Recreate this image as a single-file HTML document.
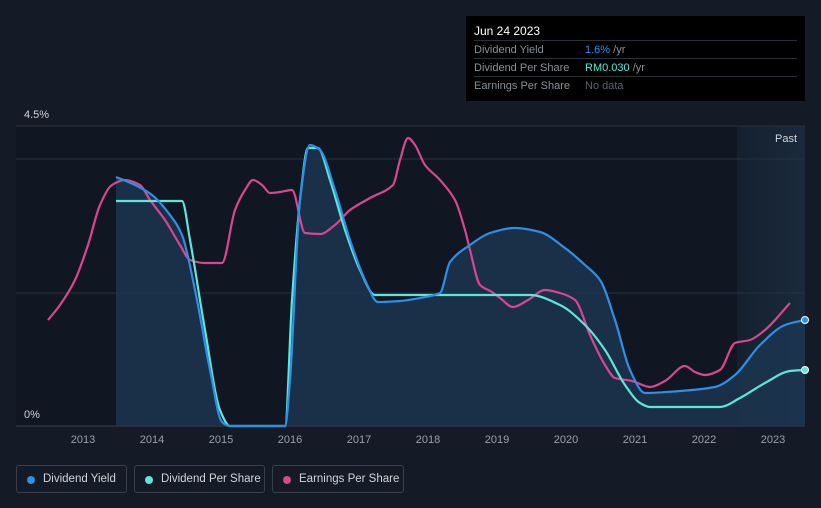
<!DOCTYPE html>
<html><head><meta charset="utf-8"><style>
body{margin:0;background:#151b26;font-family:"Liberation Sans",sans-serif;}
#wrap{position:relative;width:821px;height:508px;overflow:hidden;background:#151b26}
.tt{position:absolute;left:466px;top:16px;width:339px;height:85px;background:#000;color:#fff;font-size:11px}
.tt .row{position:absolute;left:8px;width:323px;border-top:1px solid #2a2f38;height:18px;line-height:18px}
.tt .k{color:#8a9099;position:absolute;left:0}
.tt .v{position:absolute;left:111px;color:#8a9099}
.leg{position:absolute;top:465px;height:28px;border:1px solid #3a404b;border-radius:3px;color:#d0d4da;font-size:11.5px;line-height:27px;padding:0 0 0 26px;box-sizing:border-box;white-space:nowrap}
.leg i{position:absolute;left:10px;top:10px;width:8px;height:8px;border-radius:50%}
</style></head><body>
<div id="wrap">
<svg id="svg" width="821" height="508" style="position:absolute;left:0;top:0"><defs><linearGradient id="pg" x1="0" x2="1" y1="0" y2="0"><stop offset="0" stop-color="#14202e"/><stop offset="1" stop-color="#1a2a3c"/></linearGradient></defs></svg>
<div class="tt">
<div style="position:absolute;left:8px;top:8px;font-size:12px">Jun 24 2023</div>
<div class="row" style="top:24px"><span class="k">Dividend Yield</span><span class="v"><span style="color:#2d8fe6">1.6%</span> /yr</span></div>
<div class="row" style="top:42px"><span class="k">Dividend Per Share</span><span class="v"><span style="color:#5ee6d8">RM0.030</span> /yr</span></div>
<div class="row" style="top:60px"><span class="k">Earnings Per Share</span><span class="v" style="color:#5d636c">No data</span></div>
</div>
<div class="leg" style="left:16px;width:111px"><i style="background:#2d8fe6"></i>Dividend Yield</div>
<div class="leg" style="left:134px;width:131px"><i style="background:#5ee6d8"></i>Dividend Per Share</div>
<div class="leg" style="left:272px;width:132px"><i style="background:#d9468f"></i>Earnings Per Share</div>
</div>
<script>
const yieldX=[116,135,152,170,182,195,210,222,230,285,290,300,310,320,335,350,365,378,400,420,440,450,470,490,515,540,565,585,600,615,630,645,680,715,735,760,785,805];
const yieldY=[177,185,195,215,235,290,370,422,426,426,380,200,145,150,190,240,280,302,301,298,293,262,245,233,228,232,248,265,280,320,370,393,391,387,375,345,325,320];
const dpsX=[116,182,190,205,220,230,285,292,300,308,318,330,345,360,375,400,530,560,585,605,625,640,650,720,740,765,790,805];
const dpsY=[201,201,240,330,410,426,426,300,200,148,148,180,230,270,295,295,295,305,325,350,385,403,407,407,398,383,371,370];
const epsX=[48,60,75,88,100,112,125,140,150,165,180,190,205,222,235,245,253,262,270,280,292,305,320,335,350,370,393,400,408,415,425,440,455,465,470,480,492,500,513,528,545,560,575,590,605,615,632,650,665,685,695,705,720,735,750,765,790];
const epsY=[320,305,280,245,205,185,180,185,200,220,245,260,263,263,210,190,180,185,193,192,190,233,234,225,210,198,185,160,138,145,165,180,200,230,250,285,292,298,307,300,290,293,300,335,365,378,381,387,381,366,372,375,370,343,340,330,303];
const toYear=x=>2013+(x-83)/69, toPct=y=>(426-y)*4.5/300;
const yieldData=yieldX.map((x,i)=>[toYear(x),toPct(yieldY[i])]);
const dpsData=dpsX.map((x,i)=>[toYear(x),toPct(dpsY[i])]);
const epsData=epsX.map((x,i)=>[toYear(x),toPct(epsY[i])]);
const years=[2013,2014,2015,2016,2017,2018,2019,2020,2021,2022,2023];
const sx=t=>83+(t-2013)*69, sy=v=>426-v/4.5*300;
const NS="http://www.w3.org/2000/svg", svg=document.getElementById('svg');
function el(tag,a,p){const e=document.createElementNS(NS,tag);for(const k in a)e.setAttribute(k,a[k]);(p||svg).appendChild(e);return e;}
function path(d){const P=d.map(p=>[sx(p[0]),sy(p[1])]);const n=P.length;const m=[],dl=[];
for(let i=0;i<n-1;i++)dl.push((P[i+1][1]-P[i][1])/(P[i+1][0]-P[i][0]));
for(let i=0;i<n;i++){if(i==0)m.push(dl[0]);else if(i==n-1)m.push(dl[n-2]);else if(dl[i-1]*dl[i]<=0)m.push(0);else{m.push(2/(1/dl[i-1]+1/dl[i]));}}
let s=`M${P[0][0]},${P[0][1]}`;
for(let i=0;i<n-1;i++){const h=(P[i+1][0]-P[i][0])/3;s+=`C${P[i][0]+h},${P[i][1]+m[i]*h} ${P[i+1][0]-h},${P[i+1][1]-m[i+1]*h} ${P[i+1][0]},${P[i+1][1]}`;}
return s;}
let r=el('rect',{x:16,y:126,width:789,height:300,fill:'#111722'});
let past=el('rect',{x:737,y:126,width:68,height:300,fill:'url(#pg)'});
[126,159,293].forEach(y=>{let g=el('line',{x1:16,x2:805,y1:y,y2:y,stroke:'#2a303b','stroke-width':1});});
let ax=el('line',{x1:16,x2:805,y1:426,y2:426,stroke:'#3a404b'});
let area=el('path',{d:path(yieldData)+`L${sx(yieldData[yieldData.length-1][0])},426L${sx(yieldData[0][0])},426Z`,fill:'#1c3550',opacity:0.85});

let l1=el('path',{d:path(epsData),fill:'none',stroke:'#d9468f','stroke-width':2.2});
let l2=el('path',{d:path(dpsData),fill:'none',stroke:'#5ee6d8','stroke-width':2.2});
let l3=el('path',{d:path(yieldData),fill:'none',stroke:'#2d8fe6','stroke-width':2.2});
[[yieldData,'#2d8fe6'],[dpsData,'#5ee6d8']].forEach(([d,c])=>{const p=d[d.length-1];let e=el('circle',{cx:sx(p[0]),cy:sy(p[1]),r:3.5,fill:c,stroke:'#fff','stroke-width':1});});
years.forEach(y=>{let t=el('text',{x:sx(y),y:443,fill:'#9aa0a8','font-size':11,'text-anchor':'middle'});t.textContent=y;});
let a=el('text',{x:24,y:118,fill:'#d0d4da','font-size':11});a.textContent='4.5%';
let b=el('text',{x:24,y:418,fill:'#d0d4da','font-size':11});b.textContent='0%';
let c=el('text',{x:797,y:142,fill:'#d0d4da','font-size':11,'text-anchor':'end'});c.textContent='Past';
</script>
</body></html>
